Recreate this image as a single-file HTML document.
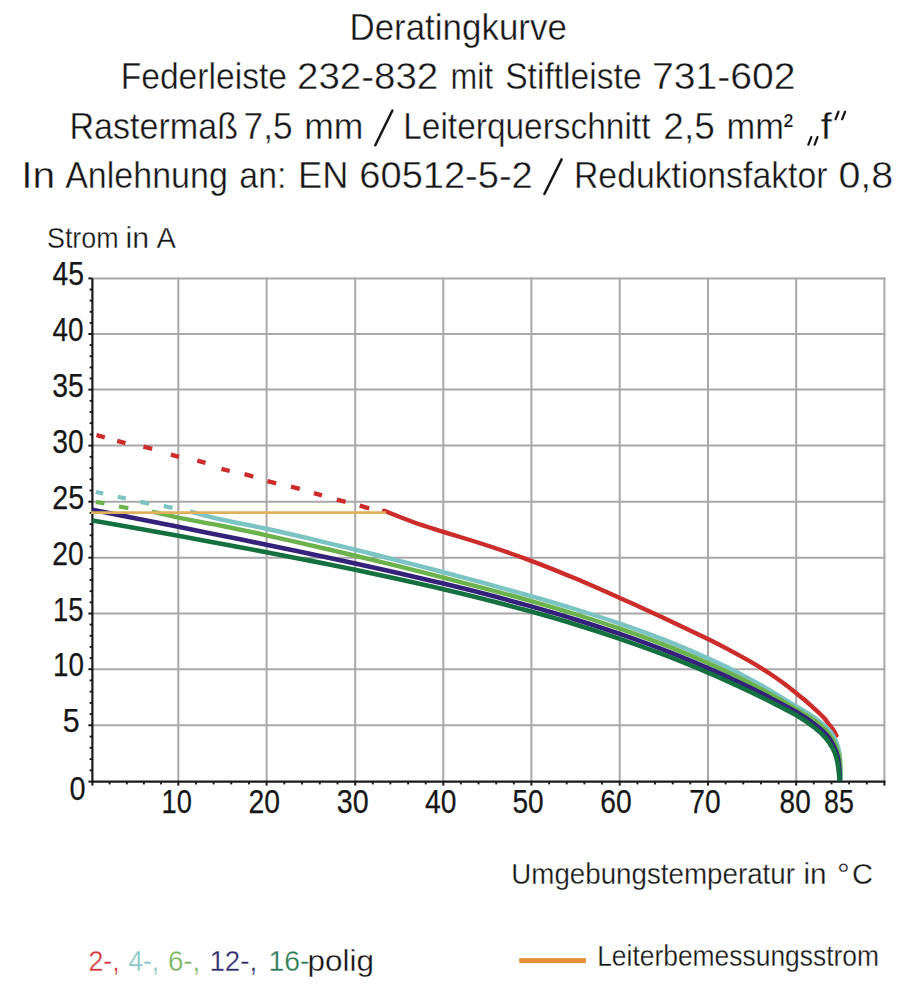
<!DOCTYPE html>
<html><head><meta charset="utf-8"><title>Deratingkurve</title>
<style>html,body{margin:0;padding:0;background:#fff;overflow:hidden;width:917px;height:1000px;}svg{display:block;font-family:"Liberation Sans",sans-serif;}</style>
</head><body>
<svg width="917" height="1000" viewBox="0 0 917 1000">
<rect width="917" height="1000" fill="#fff"/>
<g stroke="#a8a8a8" stroke-width="2"><line x1="178.3" y1="277.4" x2="178.3" y2="781.6"/><line x1="266.6" y1="277.4" x2="266.6" y2="781.6"/><line x1="355.2" y1="277.4" x2="355.2" y2="781.6"/><line x1="443.3" y1="277.4" x2="443.3" y2="781.6"/><line x1="531.4" y1="277.4" x2="531.4" y2="781.6"/><line x1="619.7" y1="277.4" x2="619.7" y2="781.6"/><line x1="708.0" y1="277.4" x2="708.0" y2="781.6"/><line x1="796.2" y1="277.4" x2="796.2" y2="781.6"/><line x1="884.4" y1="277.4" x2="884.4" y2="781.6"/><line x1="92.4" y1="725.3" x2="885.4" y2="725.3"/><line x1="92.4" y1="669.2" x2="885.4" y2="669.2"/><line x1="92.4" y1="613.5" x2="885.4" y2="613.5"/><line x1="92.4" y1="557.7" x2="885.4" y2="557.7"/><line x1="92.4" y1="501.7" x2="885.4" y2="501.7"/><line x1="92.4" y1="445.6" x2="885.4" y2="445.6"/><line x1="92.4" y1="389.6" x2="885.4" y2="389.6"/><line x1="92.4" y1="334.0" x2="885.4" y2="334.0"/><line x1="92.4" y1="278.4" x2="885.4" y2="278.4"/></g>
<g stroke="#1a1a1a" stroke-linecap="butt"><line x1="92.4" y1="278.4" x2="92.4" y2="782.7" stroke-width="2.2"/><line x1="91.3" y1="781.6" x2="885.4" y2="781.6" stroke-width="2.2"/><line x1="88.4" y1="781.6" x2="92.4" y2="781.6" stroke-width="2"/><line x1="88.4" y1="725.3" x2="92.4" y2="725.3" stroke-width="2"/><line x1="88.4" y1="669.2" x2="92.4" y2="669.2" stroke-width="2"/><line x1="88.4" y1="613.5" x2="92.4" y2="613.5" stroke-width="2"/><line x1="88.4" y1="557.7" x2="92.4" y2="557.7" stroke-width="2"/><line x1="88.4" y1="501.7" x2="92.4" y2="501.7" stroke-width="2"/><line x1="88.4" y1="445.6" x2="92.4" y2="445.6" stroke-width="2"/><line x1="88.4" y1="389.6" x2="92.4" y2="389.6" stroke-width="2"/><line x1="88.4" y1="334.0" x2="92.4" y2="334.0" stroke-width="2"/><line x1="88.4" y1="278.4" x2="92.4" y2="278.4" stroke-width="2"/><line x1="89.6" y1="770.3" x2="92.4" y2="770.3" stroke-width="1.9"/><line x1="89.6" y1="759.1" x2="92.4" y2="759.1" stroke-width="1.9"/><line x1="89.6" y1="747.8" x2="92.4" y2="747.8" stroke-width="1.9"/><line x1="89.6" y1="736.6" x2="92.4" y2="736.6" stroke-width="1.9"/><line x1="89.6" y1="714.1" x2="92.4" y2="714.1" stroke-width="1.9"/><line x1="89.6" y1="702.9" x2="92.4" y2="702.9" stroke-width="1.9"/><line x1="89.6" y1="691.6" x2="92.4" y2="691.6" stroke-width="1.9"/><line x1="89.6" y1="680.4" x2="92.4" y2="680.4" stroke-width="1.9"/><line x1="89.6" y1="658.1" x2="92.4" y2="658.1" stroke-width="1.9"/><line x1="89.6" y1="646.9" x2="92.4" y2="646.9" stroke-width="1.9"/><line x1="89.6" y1="635.8" x2="92.4" y2="635.8" stroke-width="1.9"/><line x1="89.6" y1="624.6" x2="92.4" y2="624.6" stroke-width="1.9"/><line x1="89.6" y1="602.3" x2="92.4" y2="602.3" stroke-width="1.9"/><line x1="89.6" y1="591.2" x2="92.4" y2="591.2" stroke-width="1.9"/><line x1="89.6" y1="580.0" x2="92.4" y2="580.0" stroke-width="1.9"/><line x1="89.6" y1="568.9" x2="92.4" y2="568.9" stroke-width="1.9"/><line x1="89.6" y1="546.5" x2="92.4" y2="546.5" stroke-width="1.9"/><line x1="89.6" y1="535.3" x2="92.4" y2="535.3" stroke-width="1.9"/><line x1="89.6" y1="524.1" x2="92.4" y2="524.1" stroke-width="1.9"/><line x1="89.6" y1="512.9" x2="92.4" y2="512.9" stroke-width="1.9"/><line x1="89.6" y1="490.5" x2="92.4" y2="490.5" stroke-width="1.9"/><line x1="89.6" y1="479.3" x2="92.4" y2="479.3" stroke-width="1.9"/><line x1="89.6" y1="468.0" x2="92.4" y2="468.0" stroke-width="1.9"/><line x1="89.6" y1="456.8" x2="92.4" y2="456.8" stroke-width="1.9"/><line x1="89.6" y1="434.4" x2="92.4" y2="434.4" stroke-width="1.9"/><line x1="89.6" y1="423.2" x2="92.4" y2="423.2" stroke-width="1.9"/><line x1="89.6" y1="412.0" x2="92.4" y2="412.0" stroke-width="1.9"/><line x1="89.6" y1="400.8" x2="92.4" y2="400.8" stroke-width="1.9"/><line x1="89.6" y1="378.5" x2="92.4" y2="378.5" stroke-width="1.9"/><line x1="89.6" y1="367.4" x2="92.4" y2="367.4" stroke-width="1.9"/><line x1="89.6" y1="356.2" x2="92.4" y2="356.2" stroke-width="1.9"/><line x1="89.6" y1="345.1" x2="92.4" y2="345.1" stroke-width="1.9"/><line x1="89.6" y1="322.9" x2="92.4" y2="322.9" stroke-width="1.9"/><line x1="89.6" y1="311.8" x2="92.4" y2="311.8" stroke-width="1.9"/><line x1="89.6" y1="300.6" x2="92.4" y2="300.6" stroke-width="1.9"/><line x1="89.6" y1="289.5" x2="92.4" y2="289.5" stroke-width="1.9"/><line x1="92.4" y1="781.6" x2="92.4" y2="785.6" stroke-width="2"/><line x1="178.3" y1="781.6" x2="178.3" y2="785.6" stroke-width="2"/><line x1="266.6" y1="781.6" x2="266.6" y2="785.6" stroke-width="2"/><line x1="355.2" y1="781.6" x2="355.2" y2="785.6" stroke-width="2"/><line x1="443.3" y1="781.6" x2="443.3" y2="785.6" stroke-width="2"/><line x1="531.4" y1="781.6" x2="531.4" y2="785.6" stroke-width="2"/><line x1="619.7" y1="781.6" x2="619.7" y2="785.6" stroke-width="2"/><line x1="708.0" y1="781.6" x2="708.0" y2="785.6" stroke-width="2"/><line x1="796.2" y1="781.6" x2="796.2" y2="785.6" stroke-width="2"/><line x1="884.4" y1="781.6" x2="884.4" y2="785.6" stroke-width="2"/><line x1="109.6" y1="781.6" x2="109.6" y2="784.4" stroke-width="1.9"/><line x1="126.8" y1="781.6" x2="126.8" y2="784.4" stroke-width="1.9"/><line x1="143.9" y1="781.6" x2="143.9" y2="784.4" stroke-width="1.9"/><line x1="161.1" y1="781.6" x2="161.1" y2="784.4" stroke-width="1.9"/><line x1="196.0" y1="781.6" x2="196.0" y2="784.4" stroke-width="1.9"/><line x1="213.6" y1="781.6" x2="213.6" y2="784.4" stroke-width="1.9"/><line x1="231.3" y1="781.6" x2="231.3" y2="784.4" stroke-width="1.9"/><line x1="248.9" y1="781.6" x2="248.9" y2="784.4" stroke-width="1.9"/><line x1="284.3" y1="781.6" x2="284.3" y2="784.4" stroke-width="1.9"/><line x1="302.0" y1="781.6" x2="302.0" y2="784.4" stroke-width="1.9"/><line x1="319.8" y1="781.6" x2="319.8" y2="784.4" stroke-width="1.9"/><line x1="337.5" y1="781.6" x2="337.5" y2="784.4" stroke-width="1.9"/><line x1="372.8" y1="781.6" x2="372.8" y2="784.4" stroke-width="1.9"/><line x1="390.4" y1="781.6" x2="390.4" y2="784.4" stroke-width="1.9"/><line x1="408.1" y1="781.6" x2="408.1" y2="784.4" stroke-width="1.9"/><line x1="425.7" y1="781.6" x2="425.7" y2="784.4" stroke-width="1.9"/><line x1="460.9" y1="781.6" x2="460.9" y2="784.4" stroke-width="1.9"/><line x1="478.5" y1="781.6" x2="478.5" y2="784.4" stroke-width="1.9"/><line x1="496.2" y1="781.6" x2="496.2" y2="784.4" stroke-width="1.9"/><line x1="513.8" y1="781.6" x2="513.8" y2="784.4" stroke-width="1.9"/><line x1="549.1" y1="781.6" x2="549.1" y2="784.4" stroke-width="1.9"/><line x1="566.7" y1="781.6" x2="566.7" y2="784.4" stroke-width="1.9"/><line x1="584.4" y1="781.6" x2="584.4" y2="784.4" stroke-width="1.9"/><line x1="602.0" y1="781.6" x2="602.0" y2="784.4" stroke-width="1.9"/><line x1="637.4" y1="781.6" x2="637.4" y2="784.4" stroke-width="1.9"/><line x1="655.0" y1="781.6" x2="655.0" y2="784.4" stroke-width="1.9"/><line x1="672.7" y1="781.6" x2="672.7" y2="784.4" stroke-width="1.9"/><line x1="690.3" y1="781.6" x2="690.3" y2="784.4" stroke-width="1.9"/><line x1="725.6" y1="781.6" x2="725.6" y2="784.4" stroke-width="1.9"/><line x1="743.3" y1="781.6" x2="743.3" y2="784.4" stroke-width="1.9"/><line x1="760.9" y1="781.6" x2="760.9" y2="784.4" stroke-width="1.9"/><line x1="778.6" y1="781.6" x2="778.6" y2="784.4" stroke-width="1.9"/><line x1="813.8" y1="781.6" x2="813.8" y2="784.4" stroke-width="1.9"/><line x1="831.5" y1="781.6" x2="831.5" y2="784.4" stroke-width="1.9"/><line x1="849.1" y1="781.6" x2="849.1" y2="784.4" stroke-width="1.9"/><line x1="866.8" y1="781.6" x2="866.8" y2="784.4" stroke-width="1.9"/></g>
<g stroke="#cc2d2a" stroke-width="4.4" stroke-linecap="butt"><line x1="96.5" y1="435.09" x2="104.8" y2="437.31"/><line x1="117.2" y1="440.89" x2="125.5" y2="443.11"/><line x1="143.4" y1="446.52" x2="152.2" y2="448.88"/><line x1="170.9" y1="454.71" x2="179.0" y2="456.89"/><line x1="197.3" y1="460.70" x2="205.5" y2="462.90"/><line x1="221.5" y1="468.80" x2="229.7" y2="471.00"/><line x1="244.5" y1="474.22" x2="253.3" y2="476.58"/><line x1="267.4" y1="481.12" x2="276.2" y2="483.48"/><line x1="291.0" y1="486.52" x2="299.8" y2="488.88"/><line x1="313.9" y1="493.11" x2="322.0" y2="495.29"/><line x1="336.8" y1="499.62" x2="345.6" y2="501.98"/><line x1="359.7" y1="505.73" x2="369.2" y2="508.27"/></g>
<path d="M384.20 510.80 C389.10 512.70 403.75 518.70 413.60 522.20 C423.45 525.70 431.02 527.94 443.30 531.82 C455.58 535.71 472.65 540.69 487.30 545.52 C501.95 550.36 516.50 555.32 531.20 560.83 C545.90 566.33 560.73 572.36 575.50 578.56 C590.27 584.75 605.08 591.39 619.80 597.98 C634.52 604.57 649.12 611.27 663.80 618.12 C678.48 624.97 696.87 633.72 707.90 639.09 C718.93 644.46 722.90 646.57 730.00 650.33 C737.10 654.10 743.83 657.77 750.50 661.67 C757.17 665.57 764.25 669.98 770.00 673.74 C775.75 677.51 780.67 681.04 785.00 684.25 C789.33 687.46 792.77 690.41 796.00 693.00 C799.23 695.59 801.73 697.53 804.40 699.80 C807.07 702.07 809.47 704.32 812.00 706.60 C814.53 708.88 817.43 711.43 819.60 713.50 C821.77 715.57 823.35 717.08 825.00 719.00 C826.65 720.92 827.98 722.98 829.50 725.00 C831.02 727.02 832.95 729.33 834.10 731.10 C835.25 732.87 836.02 734.85 836.40 735.60" fill="none" stroke="#cc2d2a" stroke-width="4.4" stroke-linejoin="round" stroke-linecap="round"/>
<g stroke="#7cc3c3" stroke-width="4.2" stroke-linecap="butt"><line x1="95.9" y1="491.94" x2="103.2" y2="493.46"/><line x1="117.8" y1="496.75" x2="125.9" y2="498.45"/><line x1="140.5" y1="501.88" x2="149.3" y2="503.72"/><line x1="163.7" y1="505.97" x2="172.6" y2="507.83"/></g>
<path d="M190.00 511.50 C195.40 512.88 209.67 516.88 222.40 519.76 C235.13 522.64 251.67 525.58 266.40 528.77 C281.13 531.96 296.00 535.42 310.80 538.91 C325.60 542.40 340.47 546.06 355.20 549.71 C369.93 553.36 384.52 557.06 399.20 560.82 C413.88 564.58 428.62 568.39 443.30 572.25 C457.98 576.11 472.65 579.99 487.30 583.97 C501.95 587.95 516.50 591.94 531.20 596.15 C545.90 600.36 560.73 604.66 575.50 609.23 C590.27 613.80 605.08 618.49 619.80 623.55 C634.52 628.61 649.12 633.82 663.80 639.59 C678.48 645.36 696.87 653.33 707.90 658.18 C718.93 663.04 722.90 665.19 730.00 668.71 C737.10 672.24 743.83 675.74 750.50 679.34 C757.17 682.94 762.42 685.84 770.00 690.32 C777.58 694.80 788.55 701.64 796.00 706.20 C803.45 710.76 809.10 713.63 814.70 717.70 C820.30 721.77 825.87 726.22 829.60 730.60 C833.33 734.98 835.40 739.77 837.10 744.00 C838.80 748.23 839.22 752.00 839.80 756.00 C840.38 760.00 840.50 763.83 840.60 768.00 C840.70 772.17 840.43 778.83 840.40 781.00" fill="none" stroke="#7cc3c3" stroke-width="4.4" stroke-linejoin="round"/>
<g stroke="#6cb24c" stroke-width="4.2" stroke-linecap="butt"><line x1="96.0" y1="501.98" x2="104.5" y2="503.42"/><line x1="119.0" y1="506.50" x2="128.4" y2="508.10"/></g>
<path d="M152.00 511.60 C156.38 512.60 166.57 515.22 178.30 517.62 C190.03 520.02 207.72 523.06 222.40 526.01 C237.08 528.95 251.67 532.07 266.40 535.29 C281.13 538.50 296.00 541.88 310.80 545.29 C325.60 548.70 340.47 552.21 355.20 555.74 C369.93 559.27 384.52 562.82 399.20 566.45 C413.88 570.08 428.62 573.77 443.30 577.54 C457.98 581.30 472.65 585.10 487.30 589.04 C501.95 592.97 516.50 596.93 531.20 601.13 C545.90 605.33 560.73 609.66 575.50 614.24 C590.27 618.83 605.08 623.57 619.80 628.64 C634.52 633.71 649.12 638.94 663.80 644.67 C678.48 650.40 696.87 658.25 707.90 663.02 C718.93 667.79 722.90 669.86 730.00 673.28 C737.10 676.70 743.83 680.07 750.50 683.53 C757.17 686.99 762.42 689.73 770.00 694.01 C777.58 698.29 788.53 704.74 796.00 709.20 C803.47 713.66 809.37 716.73 814.80 720.80 C820.23 724.87 825.07 729.32 828.60 733.60 C832.13 737.88 834.23 742.60 836.00 746.50 C837.77 750.40 838.48 753.25 839.20 757.00 C839.92 760.75 840.12 765.00 840.30 769.00 C840.48 773.00 840.30 779.00 840.30 781.00" fill="none" stroke="#6cb24c" stroke-width="4.4" stroke-linejoin="round"/>
<path d="M92.40 509.82 C99.50 511.22 120.68 515.36 135.00 518.19 C149.32 521.02 163.73 523.90 178.30 526.82 C192.87 529.74 207.72 532.73 222.40 535.71 C237.08 538.69 251.67 541.66 266.40 544.70 C281.13 547.75 296.00 550.83 310.80 553.96 C325.60 557.09 340.47 560.25 355.20 563.47 C369.93 566.69 384.52 569.91 399.20 573.26 C413.88 576.61 428.62 580.03 443.30 583.58 C457.98 587.13 472.65 590.76 487.30 594.56 C501.95 598.36 516.50 602.24 531.20 606.39 C545.90 610.54 560.73 614.86 575.50 619.45 C590.27 624.04 605.08 628.83 619.80 633.92 C634.52 639.01 649.12 644.28 663.80 649.98 C678.48 655.67 696.87 663.41 707.90 668.09 C718.93 672.77 722.90 674.75 730.00 678.04 C737.10 681.33 743.83 684.56 750.50 687.84 C757.17 691.12 762.42 693.73 770.00 697.72 C777.58 701.72 788.50 707.34 796.00 711.80 C803.50 716.26 809.75 720.47 815.00 724.50 C820.25 728.53 824.23 732.08 827.50 736.00 C830.77 739.92 832.88 744.42 834.60 748.00 C836.32 751.58 837.02 754.00 837.80 757.50 C838.58 761.00 838.93 765.08 839.30 769.00 C839.67 772.92 839.88 779.00 840.00 781.00" fill="none" stroke="#33217a" stroke-width="4.6" stroke-linejoin="round"/>
<path d="M92.40 520.43 C99.50 521.69 120.68 525.45 135.00 528.02 C149.32 530.59 163.73 533.20 178.30 535.85 C192.87 538.51 207.72 541.24 222.40 543.97 C237.08 546.70 251.67 549.44 266.40 552.25 C281.13 555.07 296.00 557.94 310.80 560.87 C325.60 563.81 340.47 566.79 355.20 569.85 C369.93 572.90 384.52 575.98 399.20 579.21 C413.88 582.43 428.62 585.74 443.30 589.20 C457.98 592.65 472.65 596.20 487.30 599.93 C501.95 603.66 516.50 607.48 531.20 611.58 C545.90 615.68 560.73 619.96 575.50 624.50 C590.27 629.04 605.08 633.80 619.80 638.83 C634.52 643.86 649.12 649.09 663.80 654.70 C678.48 660.32 696.87 667.94 707.90 672.53 C718.93 677.13 722.90 679.06 730.00 682.29 C737.10 685.51 743.83 688.66 750.50 691.86 C757.17 695.06 762.42 697.61 770.00 701.48 C777.58 705.36 788.50 710.68 796.00 715.10 C803.50 719.52 810.00 724.10 815.00 728.00 C820.00 731.90 823.03 735.08 826.00 738.50 C828.97 741.92 831.07 745.25 832.80 748.50 C834.53 751.75 835.47 754.67 836.40 758.00 C837.33 761.33 837.87 764.67 838.40 768.50 C838.93 772.33 839.40 778.92 839.60 781.00" fill="none" stroke="#157040" stroke-width="4.6" stroke-linejoin="round"/>
<line x1="91" y1="512.6" x2="386" y2="512.6" stroke="#dfb15e" stroke-width="2.8"/>
<g font-family="Liberation Sans, sans-serif" style="font-kerning:none"><text x="349.43" y="40.00" font-size="36.50" textLength="217.42" lengthAdjust="spacingAndGlyphs" fill="#161616" stroke="#fff" stroke-width="0.4">Deratingkurve</text><text x="120.64" y="89.20" font-size="36.50" textLength="166.46" lengthAdjust="spacingAndGlyphs" fill="#161616" stroke="#fff" stroke-width="0.4">Federleiste</text><text x="297.07" y="89.20" font-size="36.50" textLength="141.17" lengthAdjust="spacingAndGlyphs" fill="#161616" stroke="#fff" stroke-width="0.4">232-832</text><text x="450.47" y="89.20" font-size="36.50" textLength="42.77" lengthAdjust="spacingAndGlyphs" fill="#161616" stroke="#fff" stroke-width="0.4">mit</text><text x="505.17" y="89.20" font-size="36.50" textLength="136.52" lengthAdjust="spacingAndGlyphs" fill="#161616" stroke="#fff" stroke-width="0.4">Stiftleiste</text><text x="652.00" y="89.20" font-size="36.50" textLength="143.37" lengthAdjust="spacingAndGlyphs" fill="#161616" stroke="#fff" stroke-width="0.4">731-602</text><text x="69.40" y="139.20" font-size="36.50" textLength="168.70" lengthAdjust="spacingAndGlyphs" fill="#161616" stroke="#fff" stroke-width="0.4">Rastermaß</text><text x="243.59" y="139.20" font-size="36.50" textLength="49.09" lengthAdjust="spacingAndGlyphs" fill="#161616" stroke="#fff" stroke-width="0.4">7,5</text><text x="304.14" y="139.20" font-size="36.50" textLength="59.20" lengthAdjust="spacingAndGlyphs" fill="#161616" stroke="#fff" stroke-width="0.4">mm</text><text x="403.26" y="139.20" font-size="36.50" textLength="247.19" lengthAdjust="spacingAndGlyphs" fill="#161616" stroke="#fff" stroke-width="0.4">Leiterquerschnitt</text><text x="663.34" y="139.20" font-size="36.50" textLength="51.41" lengthAdjust="spacingAndGlyphs" fill="#161616" stroke="#fff" stroke-width="0.4">2,5</text><text x="726.51" y="139.20" font-size="36.50" textLength="57.36" lengthAdjust="spacingAndGlyphs" fill="#161616" stroke="#fff" stroke-width="0.4">mm</text><text x="820.52" y="139.20" font-size="36.50" textLength="11.42" lengthAdjust="spacingAndGlyphs" fill="#161616" stroke="#fff" stroke-width="0.4">f</text><text x="783.74" y="135.27" font-size="30.08" textLength="9.29" lengthAdjust="spacingAndGlyphs" fill="#161616">²</text><text x="21.24" y="188.20" font-size="36.50" textLength="34.01" lengthAdjust="spacingAndGlyphs" fill="#161616" stroke="#fff" stroke-width="0.4">In</text><text x="65.13" y="188.20" font-size="36.50" textLength="162.76" lengthAdjust="spacingAndGlyphs" fill="#161616" stroke="#fff" stroke-width="0.4">Anlehnung</text><text x="239.36" y="188.20" font-size="36.50" textLength="47.14" lengthAdjust="spacingAndGlyphs" fill="#161616" stroke="#fff" stroke-width="0.4">an:</text><text x="298.02" y="188.20" font-size="36.50" textLength="50.44" lengthAdjust="spacingAndGlyphs" fill="#161616" stroke="#fff" stroke-width="0.4">EN</text><text x="359.37" y="188.20" font-size="36.50" textLength="173.34" lengthAdjust="spacingAndGlyphs" fill="#161616" stroke="#fff" stroke-width="0.4">60512-5-2</text><text x="573.93" y="188.20" font-size="36.50" textLength="253.63" lengthAdjust="spacingAndGlyphs" fill="#161616" stroke="#fff" stroke-width="0.4">Reduktionsfaktor</text><text x="838.46" y="188.20" font-size="36.50" textLength="54.75" lengthAdjust="spacingAndGlyphs" fill="#161616" stroke="#fff" stroke-width="0.4">0,8</text><text x="46.98" y="248.30" font-size="29.00" textLength="71.69" lengthAdjust="spacingAndGlyphs" fill="#161616" stroke="#fff" stroke-width="0.3">Strom</text><text x="125.47" y="248.30" font-size="29.00" textLength="23.60" lengthAdjust="spacingAndGlyphs" fill="#161616" stroke="#fff" stroke-width="0.3">in</text><text x="156.44" y="248.30" font-size="29.00" textLength="19.41" lengthAdjust="spacingAndGlyphs" fill="#161616" stroke="#fff" stroke-width="0.3">A</text><text x="52.45" y="285.40" font-size="33.00" textLength="31.54" lengthAdjust="spacingAndGlyphs" fill="#161616" stroke="#161616" stroke-width="0.25">45</text><text x="52.46" y="341.00" font-size="33.00" textLength="31.03" lengthAdjust="spacingAndGlyphs" fill="#161616" stroke="#161616" stroke-width="0.25">40</text><text x="52.22" y="396.60" font-size="33.00" textLength="31.57" lengthAdjust="spacingAndGlyphs" fill="#161616" stroke="#161616" stroke-width="0.25">35</text><text x="52.22" y="452.60" font-size="33.00" textLength="31.48" lengthAdjust="spacingAndGlyphs" fill="#161616" stroke="#161616" stroke-width="0.25">30</text><text x="52.16" y="508.70" font-size="33.00" textLength="31.95" lengthAdjust="spacingAndGlyphs" fill="#161616" stroke="#161616" stroke-width="0.25">25</text><text x="52.18" y="564.70" font-size="33.00" textLength="31.42" lengthAdjust="spacingAndGlyphs" fill="#161616" stroke="#161616" stroke-width="0.25">20</text><text x="53.11" y="620.50" font-size="33.00" textLength="30.54" lengthAdjust="spacingAndGlyphs" fill="#161616" stroke="#161616" stroke-width="0.25">15</text><text x="53.08" y="676.20" font-size="33.00" textLength="30.90" lengthAdjust="spacingAndGlyphs" fill="#161616" stroke="#161616" stroke-width="0.25">10</text><text x="62.78" y="732.30" font-size="33.00" textLength="16.89" lengthAdjust="spacingAndGlyphs" fill="#161616" stroke="#161616" stroke-width="0.25">5</text><text x="69.47" y="800.00" font-size="34.00" textLength="16.06" lengthAdjust="spacingAndGlyphs" fill="#161616" stroke="#161616" stroke-width="0.25">0</text><text x="161.62" y="813.00" font-size="33.00" textLength="30.34" lengthAdjust="spacingAndGlyphs" fill="#161616" stroke="#161616" stroke-width="0.25">10</text><text x="248.57" y="813.00" font-size="33.00" textLength="31.53" lengthAdjust="spacingAndGlyphs" fill="#161616" stroke="#161616" stroke-width="0.25">20</text><text x="336.71" y="813.00" font-size="33.00" textLength="31.91" lengthAdjust="spacingAndGlyphs" fill="#161616" stroke="#161616" stroke-width="0.25">30</text><text x="425.05" y="813.00" font-size="33.00" textLength="31.35" lengthAdjust="spacingAndGlyphs" fill="#161616" stroke="#161616" stroke-width="0.25">40</text><text x="512.38" y="813.00" font-size="33.00" textLength="31.22" lengthAdjust="spacingAndGlyphs" fill="#161616" stroke="#161616" stroke-width="0.25">50</text><text x="600.36" y="813.00" font-size="33.00" textLength="31.44" lengthAdjust="spacingAndGlyphs" fill="#161616" stroke="#161616" stroke-width="0.25">60</text><text x="689.36" y="813.00" font-size="33.00" textLength="31.35" lengthAdjust="spacingAndGlyphs" fill="#161616" stroke="#161616" stroke-width="0.25">70</text><text x="779.58" y="813.00" font-size="33.00" textLength="31.11" lengthAdjust="spacingAndGlyphs" fill="#161616" stroke="#161616" stroke-width="0.25">80</text><text x="824.04" y="813.00" font-size="33.00" textLength="29.79" lengthAdjust="spacingAndGlyphs" fill="#161616" stroke="#161616" stroke-width="0.25">85</text><text x="511.26" y="883.60" font-size="30.00" textLength="283.70" lengthAdjust="spacingAndGlyphs" fill="#161616" stroke="#fff" stroke-width="0.3">Umgebungstemperatur</text><text x="803.41" y="883.60" font-size="30.00" textLength="23.12" lengthAdjust="spacingAndGlyphs" fill="#161616" stroke="#fff" stroke-width="0.3">in</text><text x="837.09" y="883.60" font-size="30.00" textLength="12.84" lengthAdjust="spacingAndGlyphs" fill="#161616" stroke="#fff" stroke-width="0.3">°</text><text x="852.12" y="883.60" font-size="30.00" textLength="20.98" lengthAdjust="spacingAndGlyphs" fill="#161616" stroke="#fff" stroke-width="0.3">C</text><text x="88.45" y="971.00" font-size="30.00" textLength="31.25" lengthAdjust="spacingAndGlyphs" fill="#d2373c" stroke="#fff" stroke-width="0.3">2-,</text><text x="128.50" y="971.00" font-size="30.00" textLength="30.44" lengthAdjust="spacingAndGlyphs" fill="#84c3c3" stroke="#fff" stroke-width="0.3">4-,</text><text x="167.89" y="971.00" font-size="30.00" textLength="32.40" lengthAdjust="spacingAndGlyphs" fill="#79b55f" stroke="#fff" stroke-width="0.3">6-,</text><text x="209.39" y="971.00" font-size="30.00" textLength="47.81" lengthAdjust="spacingAndGlyphs" fill="#2e2a6e" stroke="#fff" stroke-width="0.3">12-,</text><text x="268.44" y="971.00" font-size="30.00" textLength="40.91" lengthAdjust="spacingAndGlyphs" fill="#2d7a55" stroke="#fff" stroke-width="0.3">16-</text><text x="307.47" y="971.00" font-size="30.00" textLength="66.45" lengthAdjust="spacingAndGlyphs" fill="#161616" stroke="#fff" stroke-width="0.3">polig</text><text x="597.13" y="965.60" font-size="30.00" textLength="281.91" lengthAdjust="spacingAndGlyphs" fill="#161616" stroke="#fff" stroke-width="0.3">Leiterbemessungsstrom</text></g>
<g stroke="#161616" stroke-width="2.5" stroke-linecap="round"><line x1="375.3" y1="145.3" x2="392.4" y2="110.5"/><line x1="544.4" y1="194" x2="561.6" y2="159.4"/></g><g stroke="#161616" stroke-width="2.3" stroke-linecap="round"><line x1="808.4" y1="144.6" x2="811.3" y2="137.1"/><line x1="814.6" y1="144.6" x2="817.5" y2="137.1"/><line x1="835.6" y1="119.2" x2="838.5" y2="111.7"/><line x1="842.2" y1="119.2" x2="845.1" y2="111.7"/></g>
<rect x="519.2" y="958.1" width="66.7" height="5" fill="#e69137"/>
</svg>
</body></html>
